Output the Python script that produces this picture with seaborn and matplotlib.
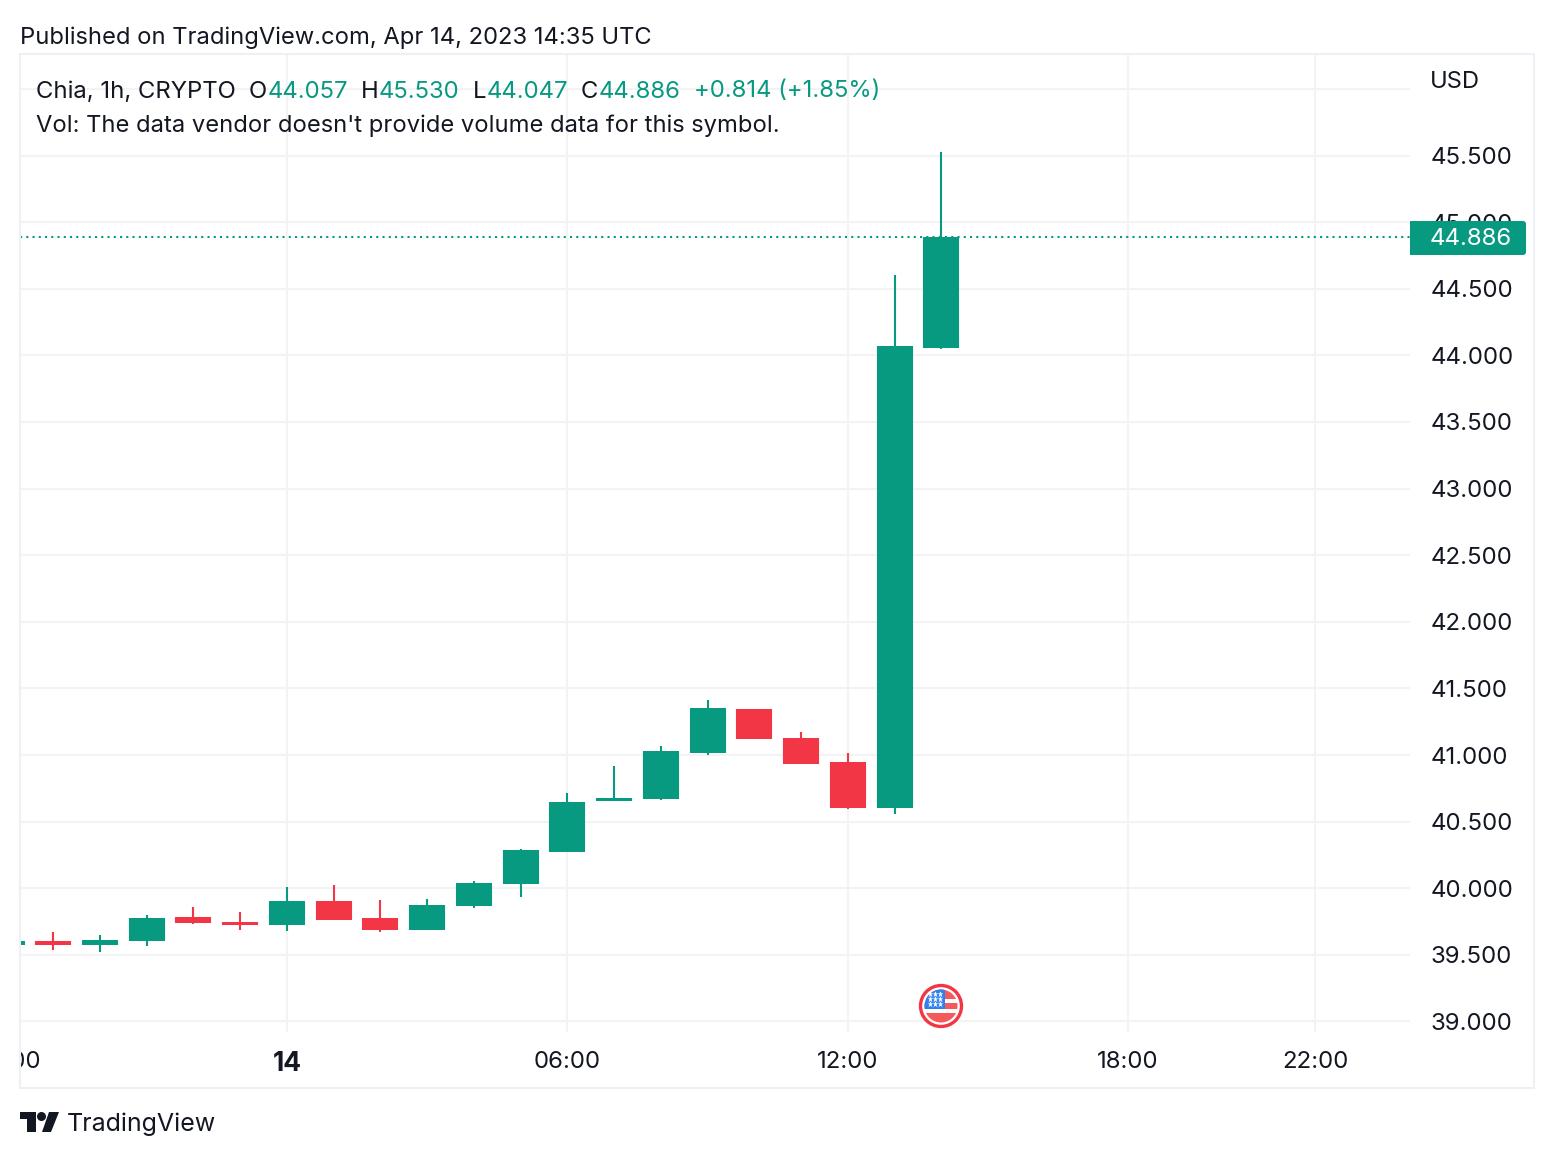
import numpy as np
import pandas as pd
import matplotlib
matplotlib.use("Agg")
import matplotlib.pyplot as plt
import seaborn as sns
from matplotlib.lines import Line2D
from matplotlib.patches import Circle, FancyBboxPatch, Polygon, Rectangle
from matplotlib.transforms import Affine2D, Bbox, TransformedBbox

# hours relative to Apr 14 00:00
hours = [-6, -5, -4, -3, -2, -1, 0, 1, 2, 3, 4, 5, 6, 7, 8, 9, 10, 11, 12, 13, 14]
opens = [39.574, 39.604, 39.574, 39.604, 39.784, 39.747, 39.724, 39.904, 39.777, 39.687, 39.867,
         40.032, 40.272, 40.655, 40.670, 41.015, 41.346, 41.128, 40.948, 40.602, 44.057]
closes = [39.604, 39.574, 39.612, 39.777, 39.739, 39.724, 39.904, 39.762, 39.687, 39.874, 40.040,
          40.287, 40.648, 40.678, 41.030, 41.353, 41.120, 40.933, 40.602, 44.070, 44.886]
highs = [39.604, 39.672, 39.649, 39.799, 39.859, 39.822, 40.010, 40.025, 39.912, 39.919, 40.055,
         40.295, 40.715, 40.918, 41.068, 41.413, 41.346, 41.173, 41.015, 44.603, 45.530]
lows = [39.574, 39.537, 39.522, 39.567, 39.732, 39.687, 39.679, 39.762, 39.672, 39.687, 39.852,
        39.934, 40.272, 40.655, 40.663, 41.000, 41.120, 40.933, 40.595, 40.557, 44.047]

last_price = 44.886
y_ticks = [39.0, 39.5, 40.0, 40.5, 41.0, 41.5, 42.0, 42.5, 43.0, 43.5, 44.0, 44.5, 45.0, 45.5, 46.0]
y_labels = ["39.000", "39.500", "40.000", "40.500", "41.000", "41.500", "42.000", "42.500",
            "43.000", "43.500", "44.000", "44.500", "45.000", "45.500", ""]
x_ticks = [0, 6, 12, 18, 22]
x_labels = ["14", "06:00", "12:00", "18:00", "22:00"]
# this tick lies left of the pane, only the end of its label shows
clipped_tick = -6
clipped_label = "18:00"

GREEN = "#089981"
RED = "#F23645"
DARK = "#131722"
GRID = "#f3f3f4"
FRAME = "#eff0f5"
FONT = "Inter"
W, H = 1554, 1158

sns.set_theme(style="white")
plt.rcParams["font.family"] = [FONT, "DejaVu Sans"]

fig = plt.figure(figsize=(W / 100, H / 100), dpi=100, facecolor="white")
ax = fig.add_axes([20 / W, (H - 1032) / H, 1390 / W, 978 / H])

# pixel coordinates of the reference, origin top left
px = Affine2D().scale(1, -1).translate(0, H)

candles = pd.DataFrame({"hour": hours, "open": opens, "close": closes, "high": highs, "low": lows})
candles["dir"] = np.where(candles["close"] >= candles["open"], "up", "down")
palette = {"up": GREEN, "down": RED}

wicks = candles.melt(id_vars=["hour", "dir"], value_vars=["high", "low"], value_name="price")
bodies = candles.melt(id_vars=["hour", "dir"], value_vars=["open", "close"], value_name="price")

sns.lineplot(data=wicks, x="hour", y="price", hue="dir", units="hour", estimator=None, palette=palette,
             linewidth=1.5, solid_capstyle="butt", legend=False, zorder=3, ax=ax)
sns.lineplot(data=bodies, x="hour", y="price", hue="dir", units="hour", estimator=None, palette=palette,
             linewidth=26, solid_capstyle="butt", legend=False, zorder=4, ax=ax)

ax.axhline(last_price, color=GREEN, lw=1.5, ls=(0, (1, 2)), zorder=5)

ax.set_yticks(y_ticks, y_labels)
ax.set_xticks(x_ticks, x_labels)
ax.set_xlim(-5.712, 24.03)
ax.set_ylim(38.921, 46.262)
ax.yaxis.tick_right()
ax.set_xlabel("")
ax.set_ylabel("")
ax.grid(True, color=GRID, lw=1.5)
ax.set_axisbelow(True)
sns.despine(ax=ax, left=True, bottom=True, right=True, top=True)
ax.tick_params(axis="y", length=0, pad=14.5, labelsize=17.3, labelcolor=DARK)
ax.tick_params(axis="x", length=0, pad=14, labelsize=17.3, labelcolor=DARK)

for lab in ax.get_xticklabels():
    if lab.get_text() == "14":
        lab.set_fontweight("bold")
        lab.set_fontsize(19)

left_clip = TransformedBbox(Bbox([[20 / W, 0], [1, 1]]), fig.transFigure)
edge_label = ax.annotate(clipped_label, xy=(clipped_tick, -30 / 978), xycoords=ax.get_xaxis_transform(),
                         xytext=(4, 0), textcoords="offset pixels", ha="center", va="center",
                         fontsize=17.3, color=DARK, annotation_clip=False)
edge_label.set_clip_box(left_clip)
edge_label.set_clip_on(True)

# frame round chart and price scale
fig.add_artist(Rectangle((20, 54), 1514, 1034, transform=px, fill=False, ec=FRAME, lw=1.5, zorder=6))

# last price badge sits on top of the 45.000 label
fig.add_artist(FancyBboxPatch((1410, 221), 116, 34, boxstyle="round,pad=0,rounding_size=3", transform=px,
                              fc=GREEN, ec="none", zorder=7))
fig.add_artist(Rectangle((1410, 221), 6, 34, transform=px, fc=GREEN, ec="none", zorder=7))
fig.text(1430, 239, "44.886", transform=px, color="white", fontsize=17.3, va="center", zorder=8)


def put(x, y, s, color=DARK, size=17.1):
    return fig.text(x, y, s, transform=px, color=color, fontsize=size, va="center", zorder=8)


put(20, 37.5, "Published on TradingView.com, Apr 14, 2023 14:35 UTC")
put(1430, 82.5, "USD")
put(36, 91.5, "Chia, 1h, CRYPTO", size=17.2)
for x, s in [(249, "O"), (361, "H"), (473, "L"), (581, "C")]:
    put(x, 91.5, s, size=17.2)
for x, s in [(268, "44.057"), (379, "45.530"), (487, "44.047"), (599, "44.886"), (694, "+0.814 (+1.85%)")]:
    put(x, 91.5, s, color=GREEN, size=17.2)
put(36, 125.5, "Vol: The data vendor doesn't provide volume data for this symbol.", size=17.08)
put(67, 1124.5, "TradingView", size=18)

# logo
logo = [
    [(20, 1112), (36, 1112), (36, 1132), (27, 1132), (27, 1119), (20, 1119)],
    [(49, 1112), (59, 1112), (51, 1132), (42, 1132)],
]
for pts in logo:
    fig.add_artist(Polygon(pts, closed=True, transform=px, fc=DARK, ec="none", zorder=8))
fig.add_artist(Circle((41.5, 1116.5), 4.5, transform=px, fc=DARK, ec="none", zorder=8))

# US flag event marker
cx, cy = 941, 1006
fig.add_artist(Circle((cx, cy), 20.5, transform=px, fc="white", ec=RED, lw=2.4, zorder=8))
clip = Circle((cx, cy), 16.5, transform=px)
flag_parts = [((924, 989), 36, 10, "#f55a5a"), ((924, 1003), 36, 6, "#f55a5a"),
              ((924, 1013), 36, 10, "#f55a5a"), ((924, 989), 21, 20, "#2f80ed")]
for xy, w, h, c in flag_parts:
    part = Rectangle(xy, w, h, transform=px, fc=c, ec="none", zorder=9)
    part.set_clip_path(clip)
    fig.add_artist(part)
for sx in (930, 935, 940):
    for sy in (994, 999, 1004):
        fig.add_artist(Line2D([sx], [sy], transform=px, marker="*", ms=4.5, mfc="white", mec="none", zorder=10))

fig.savefig("out.png", dpi=100)
